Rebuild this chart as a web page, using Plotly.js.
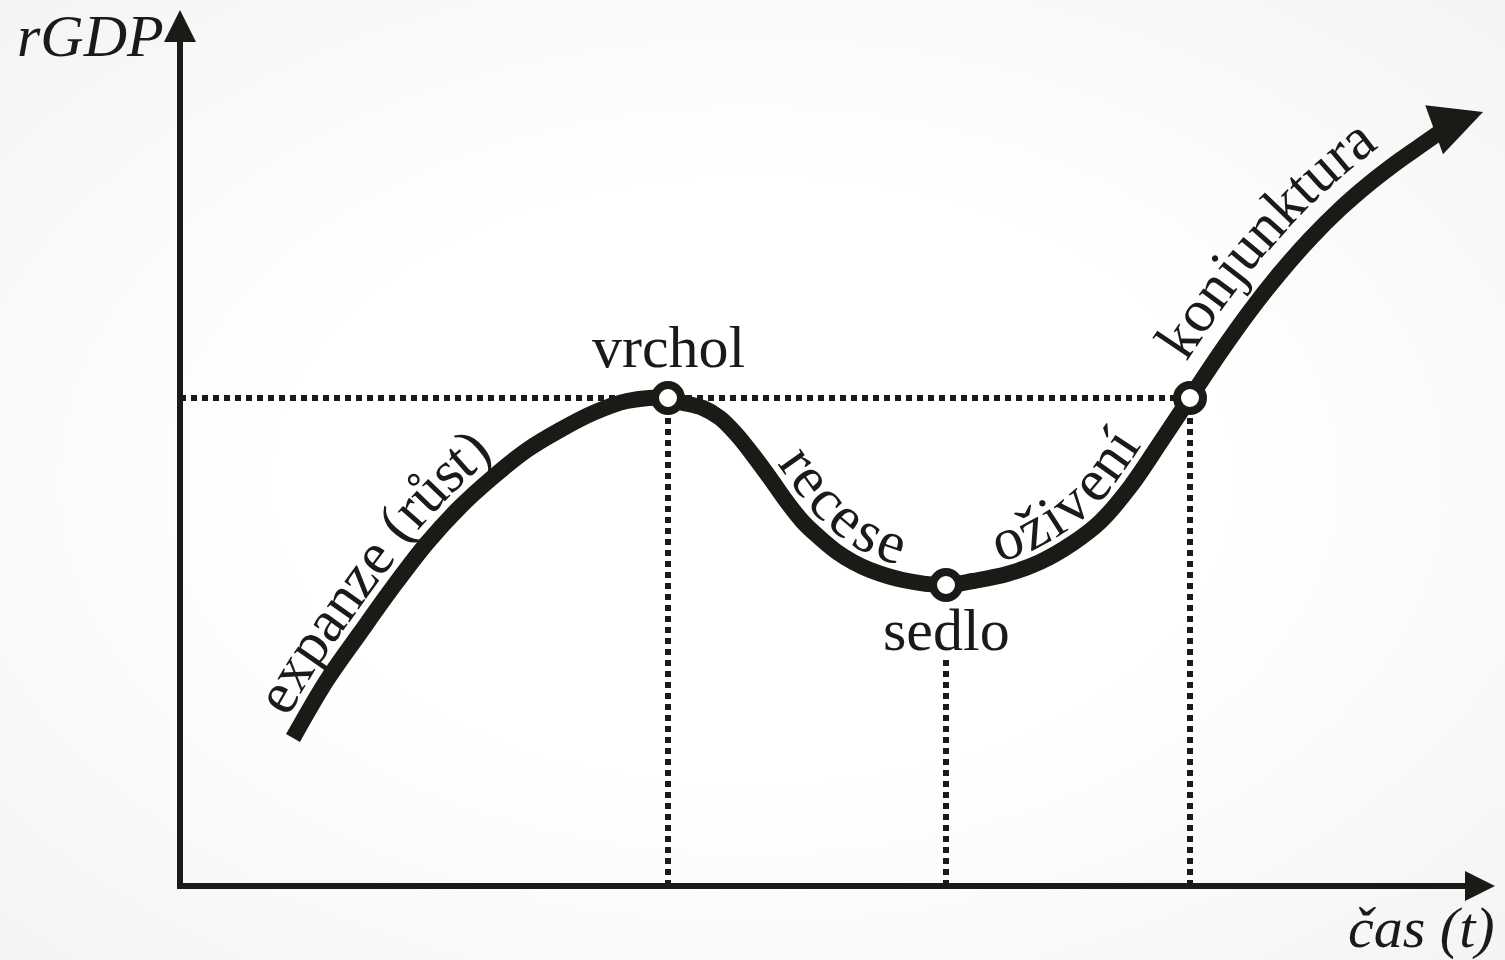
<!DOCTYPE html>
<html>
<head>
<meta charset="utf-8">
<script src="https://cdn.plot.ly/plotly-3.0.1.min.js"></script>
<style>
  html, body { margin: 0; padding: 0; }
  body {
    width: 1505px; height: 960px; overflow: hidden;
    background: radial-gradient(ellipse at 50% 50%, #ffffff 45%, #f4f4f4 100%);
  }
  #chart { width: 1505px; height: 960px; }
</style>
</head>
<body>
<div id="chart"></div>
<script>
const curveT = [113, 147, 180, 213, 247, 280, 313, 347, 380, 413, 447, 488,
                500, 523, 540, 557, 573, 590, 607, 623, 640, 657, 673, 690, 723, 766,
                793, 827, 860, 893, 920, 950, 980, 1010,
                1040, 1070, 1100, 1130, 1160, 1190, 1220, 1240, 1260];
const curveG = [148, 206, 253, 299, 343, 379, 409, 436, 456, 473, 485, 488,
                484, 478, 468, 451, 431, 408, 384, 364, 348, 334, 324, 316, 306, 301,
                305, 312, 324, 343, 364, 399, 443, 488,
                533, 575, 613, 647, 677, 703, 726, 740, 754];
const arrowTipT = [1303];
const arrowTipG = [774];

const pointNames = ["vrchol", "sedlo", "konjunktura-start"];
const pointT = [488, 766, 1010];
const pointG = [488, 301, 488];
const sedloDropTop = 226;   // dotted guide under the "sedlo" label

const axisTEnd = 1315;      // tip of time axis arrow
const axisGEnd = 876;       // tip of rGDP axis arrow

const phaseLabels = ["expanze (růst)", "recese", "oživení", "konjunktura"];
const phaseStartT = [120, 585, 820, 1024];
const phaseSpacing = [1.0, 1.0, 1.0, 1.03];
const phaseOffset = [35, 34, 34, 43];

const axisTitles = ["rGDP", "čas (t)"];

// ---- Geometry helpers ----
const W = 1505, H = 960;
const XR = [-180, 1325], YR = [-74, 886];
const toPx = (t, g) => [(t - XR[0]) / (XR[1] - XR[0]) * W, H - (g - YR[0]) / (YR[1] - YR[0]) * H];
const toData = (px, py) => [XR[0] + px / W * (XR[1] - XR[0]), YR[0] + (H - py) / H * (YR[1] - YR[0])];

function densePath(ts, gs) {
  const P = ts.map((t, i) => toPx(t, gs[i]));
  const out = [];
  const n = P.length;
  for (let i = 0; i < n - 1; i++) {
    const p0 = P[Math.max(i - 1, 0)], p1 = P[i], p2 = P[i + 1], p3 = P[Math.min(i + 2, n - 1)];
    for (let k = 0; k < 20; k++) {
      const u = k / 20, u2 = u * u, u3 = u2 * u;
      const f = (a, b, c, d) => 0.5 * ((2 * b) + (-a + c) * u + (2 * a - 5 * b + 4 * c - d) * u2 + (-a + 3 * b - 3 * c + d) * u3);
      out.push([f(p0[0], p1[0], p2[0], p3[0]), f(p0[1], p1[1], p2[1], p3[1])]);
    }
  }
  out.push(P[n - 1]);
  return out;
}

const INK = "#1c1a17";
const serif = "Liberation Serif, Times New Roman, serif";
const LABEL_SIZE = 60;

function curvedLabel(text, startT, offset, spacing, ann) {
  const path = densePath(curveT, curveG);
  const off = path.map((p, i) => {
    const a = path[Math.max(i - 1, 0)], b = path[Math.min(i + 1, path.length - 1)];
    let dx = b[0] - a[0], dy = b[1] - a[1];
    const L = Math.hypot(dx, dy) || 1; dx /= L; dy /= L;
    return [p[0] + dy * offset, p[1] - dx * offset];
  });
  const cum = [0];
  for (let i = 1; i < off.length; i++) cum.push(cum[i - 1] + Math.hypot(off[i][0] - off[i - 1][0], off[i][1] - off[i - 1][1]));
  const sx = toPx(startT, 0)[0];
  let i0 = path.findIndex(p => p[0] >= sx); if (i0 < 0) i0 = 0;
  const s0 = cum[i0];
  const ctx = document.createElement("canvas").getContext("2d");
  ctx.font = LABEL_SIZE + "px 'Liberation Serif'";
  let acc = 0;
  for (const ch of text) {
    const w = ctx.measureText(ch).width * spacing;
    const s = s0 + acc + w / 2;
    acc += w;
    if (ch === " ") continue;
    let j = cum.findIndex(c => c >= s); if (j < 1) j = 1;
    const fr = (s - cum[j - 1]) / ((cum[j] - cum[j - 1]) || 1);
    const px = off[j - 1][0] + (off[j][0] - off[j - 1][0]) * fr;
    const py = off[j - 1][1] + (off[j][1] - off[j - 1][1]) * fr;
    const ang = Math.atan2(off[j][1] - off[j - 1][1], off[j][0] - off[j - 1][0]) * 180 / Math.PI;
    const d = toData(px, py);
    ann.push({x: d[0], y: d[1], text: ch, showarrow: false, textangle: ang,
      xanchor: "center", yanchor: "middle", borderpad: 0,
      font: {family: serif, size: LABEL_SIZE, color: INK}});
  }
}

// ---- Traces ----
const traces = [];
const dotted = {color: INK, width: 6, dash: "6px,5px"};
traces.push({x: [0, pointT[2]], y: [pointG[0], pointG[2]], mode: "lines", line: dotted, hoverinfo: "skip"});
traces.push({x: [pointT[0], pointT[0]], y: [0, pointG[0]], mode: "lines", line: dotted, hoverinfo: "skip"});
traces.push({x: [pointT[1], pointT[1]], y: [0, sedloDropTop], mode: "lines", line: dotted, hoverinfo: "skip"});
traces.push({x: [pointT[2], pointT[2]], y: [0, pointG[2]], mode: "lines", line: dotted, hoverinfo: "skip"});

traces.push({x: [0, 0], y: [-3, axisGEnd - 28], mode: "lines", line: {color: INK, width: 6}, hoverinfo: "skip"});
traces.push({x: [-3, axisTEnd - 28], y: [0, 0], mode: "lines", line: {color: INK, width: 6}, hoverinfo: "skip"});
traces.push({x: [0], y: [axisGEnd], mode: "markers",
  marker: {symbol: "arrow-up", size: 32, color: INK, line: {width: 0}}, hoverinfo: "skip"});
traces.push({x: [axisTEnd], y: [0], mode: "markers",
  marker: {symbol: "arrow-right", size: 30, color: INK, line: {width: 0}}, hoverinfo: "skip"});

traces.push({x: curveT, y: curveG, mode: "lines",
  line: {color: INK, width: 16, shape: "spline", smoothing: 1}, hoverinfo: "skip"});
traces.push({x: arrowTipT, y: arrowTipG, mode: "markers",
  marker: {symbol: "arrow-right", size: 52, angle: -20, color: INK, line: {width: 0}}, hoverinfo: "skip"});

traces.push({x: pointT, y: pointG, mode: "markers", text: pointNames,
  marker: {symbol: "circle", size: 26, color: "#ffffff", line: {color: INK, width: 8}}, hoverinfo: "skip"});

// ---- Annotations ----
const annotations = [];
phaseLabels.forEach((txt, i) => curvedLabel(txt, phaseStartT[i], phaseOffset[i], phaseSpacing[i], annotations));

annotations.push({x: pointT[0], y: pointG[0] + 16, text: pointNames[0], showarrow: false,
  xanchor: "center", yanchor: "bottom", font: {family: serif, size: 60, color: INK}});
annotations.push({x: pointT[1], y: pointG[1] - 10, text: pointNames[1], showarrow: false,
  xanchor: "center", yanchor: "top", font: {family: serif, size: 60, color: INK}});
annotations.push({x: -14, xref: "x", y: 1 - 1 / H, yref: "paper", text: "<i>" + axisTitles[0] + "</i>", showarrow: false,
  xanchor: "right", yanchor: "top", font: {family: serif, size: 60, color: INK}});
annotations.push({x: axisTEnd + 2, y: -7, text: "<i>" + axisTitles[1] + "</i>", showarrow: false,
  xanchor: "right", yanchor: "top", font: {family: serif, size: 58, color: INK}});

const layout = {
  width: W, height: H,
  margin: {l: 0, r: 0, t: 0, b: 0},
  paper_bgcolor: "rgba(0,0,0,0)", plot_bgcolor: "rgba(0,0,0,0)",
  showlegend: false,
  xaxis: {range: XR, visible: false, fixedrange: true},
  yaxis: {range: YR, visible: false, fixedrange: true},
  annotations: annotations
};

Plotly.newPlot("chart", traces, layout, {staticPlot: true, displayModeBar: false});
</script>
</body>
</html>
